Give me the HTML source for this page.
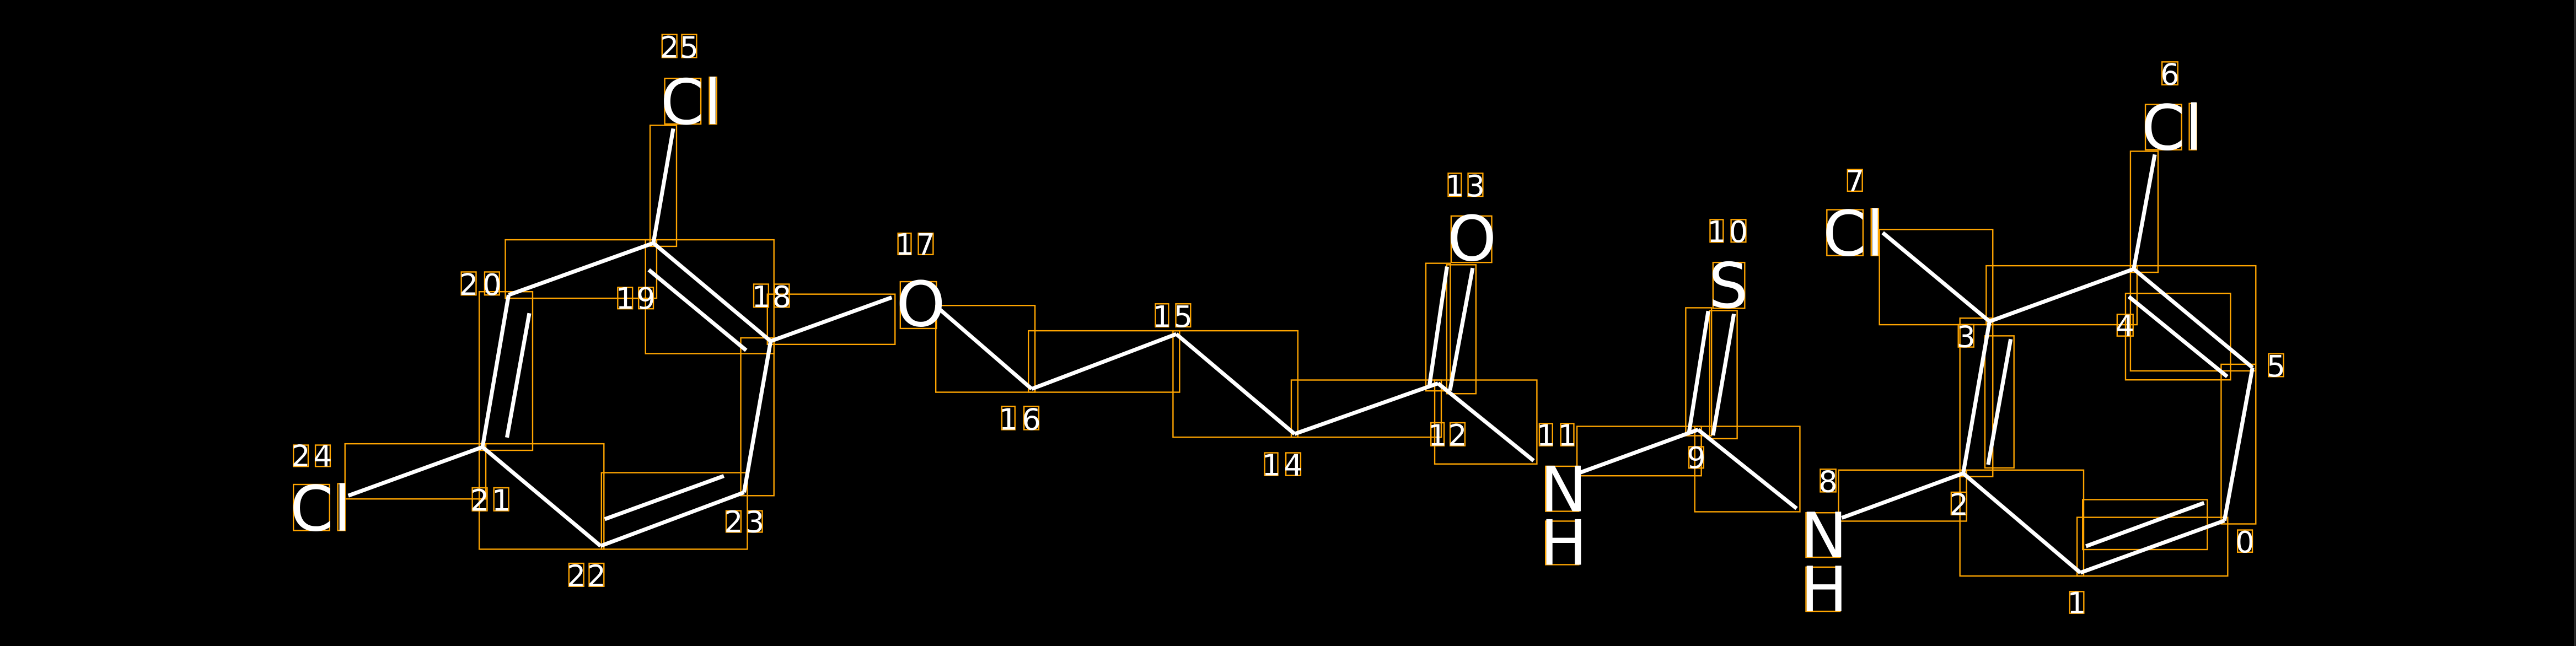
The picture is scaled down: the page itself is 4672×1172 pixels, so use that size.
<!DOCTYPE html>
<html><head><meta charset="utf-8"><style>
html,body{margin:0;padding:0;background:#000;overflow:hidden}
svg{display:block}
.b{stroke:#fff;stroke-width:2.4;stroke-linecap:butt;fill:none}
.o{stroke:#FFA500;stroke-width:0.8;fill:none}
.a{font-family:"DejaVu Sans","Liberation Sans",sans-serif;font-size:38px;fill:#fff}
.d{font-family:"DejaVu Sans","Liberation Sans",sans-serif;font-size:18px;fill:#fff;text-anchor:middle}
</style></head><body>
<svg width="4672" height="1172" viewBox="0 0 1568 393.33" preserveAspectRatio="none" xmlns="http://www.w3.org/2000/svg">
<rect x="0" y="0" width="1568" height="393.33" fill="#000"/>
<line x1="1567.4" y1="0" x2="1567.4" y2="393.33" stroke="#444" stroke-width="0.7"/>
<!-- bond boxes -->
<g class="o">
<rect x="395.7" y="76.3" width="16.1" height="73.7"/>
<rect x="307.6" y="146" width="92.1" height="35.6"/>
<rect x="392.9" y="146" width="78.2" height="69.3"/>
<rect x="291.7" y="177.6" width="32.5" height="96.6"/>
<rect x="210" y="270.2" width="85.7" height="33.6"/>
<rect x="291.7" y="270.2" width="75.9" height="64.2"/>
<rect x="366.1" y="287.8" width="88.8" height="46.6"/>
<rect x="450.9" y="205.7" width="20.2" height="96.1"/>
<rect x="467.1" y="179.1" width="77.7" height="30.6"/>
<rect x="569.6" y="186" width="60.4" height="52.8"/>
<rect x="626" y="201.4" width="92" height="37.4"/>
<rect x="714" y="201.4" width="76" height="64.8"/>
<rect x="786" y="231.4" width="91.3" height="34.8"/>
<rect x="867.9" y="160.3" width="14.9" height="77.7"/>
<rect x="880.6" y="161.2" width="17.8" height="78.5"/>
<rect x="873.3" y="231.4" width="62.2" height="51.1"/>
<rect x="959.9" y="259.6" width="75.7" height="30.1"/>
<rect x="1026.1" y="187.4" width="15.7" height="77.9"/>
<rect x="1040.7" y="189.1" width="16.7" height="78"/>
<rect x="1031.6" y="259.6" width="64" height="52"/>
<rect x="1119.1" y="286.2" width="77.9" height="31.1"/>
<rect x="1193" y="193.7" width="20" height="96.5"/>
<rect x="1208.2" y="204.5" width="17.7" height="80.4"/>
<rect x="1144" y="139.7" width="69" height="58"/>
<rect x="1209" y="161.8" width="91.8" height="35.9"/>
<rect x="1296.8" y="92.1" width="16.8" height="73.7"/>
<rect x="1296.8" y="161.8" width="76.3" height="64"/>
<rect x="1293.8" y="178.6" width="63.9" height="52.7"/>
<rect x="1352" y="221.8" width="21.1" height="97.2"/>
<rect x="1264.3" y="315" width="91.7" height="35.7"/>
<rect x="1267.7" y="304.2" width="75.9" height="30.4"/>
<rect x="1193" y="286.2" width="75.3" height="64.5"/>
</g>
<!-- bonds -->
<g class="b">
<line x1="397.7" y1="148" x2="409.8" y2="78.3"/>
<line x1="397.7" y1="148" x2="309.6" y2="179.6"/>
<line x1="397.7" y1="148" x2="469.1" y2="207.7"/>
<line x1="394.9" y1="164.3" x2="454.2" y2="213.3"/>
<line x1="309.6" y1="179.6" x2="293.7" y2="272.2"/>
<line x1="322.2" y1="190.7" x2="308.6" y2="266.4"/>
<line x1="293.7" y1="272.2" x2="212" y2="301.8"/>
<line x1="293.7" y1="272.2" x2="365.6" y2="332.4"/>
<line x1="365.6" y1="332.4" x2="452.9" y2="299.8"/>
<line x1="368.1" y1="316.1" x2="440.6" y2="289.8"/>
<line x1="452.9" y1="299.8" x2="469.1" y2="207.7"/>
<line x1="469.1" y1="207.7" x2="542.8" y2="181.1"/>
<line x1="571.6" y1="188" x2="628" y2="236.8"/>
<line x1="628" y1="236.8" x2="716" y2="203.4"/>
<line x1="716" y1="203.4" x2="788" y2="264.2"/>
<line x1="788" y1="264.2" x2="875.3" y2="233.4"/>
<line x1="869.9" y1="236" x2="880.8" y2="162.3"/>
<line x1="882.6" y1="237.7" x2="896.4" y2="163.2"/>
<line x1="875.3" y1="233.4" x2="933.5" y2="280.5"/>
<line x1="961.9" y1="287.7" x2="1033.6" y2="261.6"/>
<line x1="1028.1" y1="263.3" x2="1039.8" y2="189.4"/>
<line x1="1042.7" y1="265.1" x2="1055.4" y2="191.1"/>
<line x1="1033.6" y1="261.6" x2="1093.6" y2="309.6"/>
<line x1="1121.1" y1="315.3" x2="1195" y2="288.2"/>
<line x1="1195" y1="288.2" x2="1211" y2="195.7"/>
<line x1="1223.9" y1="206.5" x2="1210.2" y2="282.9"/>
<line x1="1211" y1="195.7" x2="1146" y2="141.7"/>
<line x1="1211" y1="195.7" x2="1298.8" y2="163.8"/>
<line x1="1298.8" y1="163.8" x2="1311.6" y2="94.1"/>
<line x1="1298.8" y1="163.8" x2="1371.1" y2="223.8"/>
<line x1="1295.8" y1="180.6" x2="1355.7" y2="229.3"/>
<line x1="1371.1" y1="223.8" x2="1354" y2="317"/>
<line x1="1354" y1="317" x2="1266.3" y2="348.7"/>
<line x1="1341.6" y1="306.2" x2="1269.7" y2="332.6"/>
<line x1="1266.3" y1="348.7" x2="1195" y2="288.2"/>
</g>
<!-- atom label boxes -->
<g class="o">
<rect x="404.6" y="47.7" width="22" height="27.8"/><rect x="431.8" y="47" width="4.4" height="28.5"/>
<rect x="178.6" y="295" width="22" height="28"/><rect x="205.6" y="294.5" width="4.4" height="28.5"/>
<rect x="548" y="171.5" width="22" height="28.5"/>
<rect x="883.3" y="131.5" width="24.7" height="28.3"/>
<rect x="1042.7" y="159.8" width="19.3" height="27.9"/>
<rect x="940.8" y="283.9" width="20.2" height="27.4"/><rect x="940.8" y="317.3" width="20.2" height="26.5"/>
<rect x="1099.3" y="312.2" width="20.7" height="27.1"/><rect x="1099.3" y="345.3" width="20.7" height="26.9"/>
<rect x="1112" y="127.7" width="22" height="27.9"/><rect x="1139" y="127" width="4.4" height="28.6"/>
<rect x="1305.9" y="63.6" width="22" height="27.6"/><rect x="1332.6" y="63" width="4.4" height="28.2"/>
</g>
<g class="a">
<text x="402" y="75.5">Cl</text>
<text x="176.5" y="323">Cl</text>
<text x="545.5" y="198.5">O</text>
<text x="881" y="158.5">O</text>
<text x="1040" y="187.2">S</text>
<text x="937.5" y="311.3">N</text><text x="937.5" y="343.8">H</text>
<text x="1096" y="339.3">N</text><text x="1096" y="372.2">H</text>
<text x="1109.5" y="155.6">Cl</text>
<text x="1303.5" y="91.2">Cl</text>
</g>
<!-- index label boxes -->
<g class="o">
<rect x="403" y="21" width="9" height="14"/><rect x="415" y="21" width="9" height="14"/>
<rect x="178.6" y="271" width="9" height="13"/><rect x="192" y="271" width="9" height="13"/>
<rect x="280.8" y="165.6" width="9" height="14"/><rect x="295" y="165.6" width="9" height="14"/>
<rect x="376" y="175" width="9" height="13"/><rect x="388.7" y="175" width="9" height="13"/>
<rect x="458.8" y="173" width="9" height="14"/><rect x="471.4" y="173" width="9" height="14"/>
<rect x="287.5" y="297" width="9" height="14"/><rect x="300.6" y="297" width="9" height="14"/>
<rect x="346.3" y="343" width="9" height="14"/><rect x="358.6" y="343" width="9" height="14"/>
<rect x="442" y="311" width="9" height="13"/><rect x="455" y="311" width="9" height="13"/>
<rect x="546.6" y="142" width="8" height="13"/><rect x="559" y="142" width="9" height="13"/>
<rect x="609.8" y="247.4" width="8" height="14.2"/><rect x="623.3" y="247.4" width="9" height="14.2"/>
<rect x="703.3" y="185" width="8" height="14"/><rect x="715.7" y="185" width="9" height="14"/>
<rect x="769.8" y="275.7" width="8" height="13.8"/><rect x="782.7" y="275.7" width="9" height="13.8"/>
<rect x="881.5" y="105.5" width="8" height="14"/><rect x="893.6" y="105.5" width="9" height="14"/>
<rect x="871" y="257.4" width="8" height="14"/><rect x="882.7" y="257.4" width="9" height="14"/>
<rect x="937" y="257.9" width="8" height="13.5"/><rect x="950" y="257.9" width="8" height="13.5"/>
<rect x="1040.9" y="133.7" width="8" height="13.7"/><rect x="1053.7" y="133.7" width="9" height="13.7"/>
<rect x="1028" y="272" width="9" height="13"/>
<rect x="1108" y="285.7" width="9.5" height="13.8"/>
<rect x="1124.6" y="103.2" width="9" height="13.2"/>
<rect x="1316" y="37.7" width="9.6" height="13.9"/>
<rect x="1380.8" y="215.4" width="9.2" height="13.9"/>
<rect x="1288.7" y="191.4" width="9.7" height="13.2"/>
<rect x="1192" y="197.6" width="9.4" height="13.7"/>
<rect x="1187.7" y="299.7" width="9.4" height="13.7"/>
<rect x="1259.8" y="360.2" width="8.6" height="13.2"/>
<rect x="1362" y="322.7" width="9" height="13.5"/>
</g>
<g class="d">
<text x="407.5" y="35">2</text><text x="419.5" y="35">5</text>
<text x="183.1" y="284">2</text><text x="196.5" y="284">4</text>
<text x="285.3" y="179.6">2</text><text x="299.5" y="179.6">0</text>
<text x="380.5" y="188">1</text><text x="393.2" y="188">9</text>
<text x="463.3" y="187">1</text><text x="475.9" y="187">8</text>
<text x="292" y="311">2</text><text x="305.1" y="311">1</text>
<text x="350.8" y="357">2</text><text x="363.1" y="357">2</text>
<text x="446.5" y="324">2</text><text x="459.5" y="324">3</text>
<text x="550.6" y="155">1</text><text x="563.5" y="155">7</text>
<text x="613.8" y="261.6">1</text><text x="627.8" y="261.6">6</text>
<text x="707.3" y="199">1</text><text x="720.2" y="199">5</text>
<text x="773.8" y="289.5">1</text><text x="787.2" y="289.5">4</text>
<text x="885.5" y="119.5">1</text><text x="898.1" y="119.5">3</text>
<text x="875" y="271.4">1</text><text x="887.2" y="271.4">2</text>
<text x="941" y="271.4">1</text><text x="954" y="271.4">1</text>
<text x="1044.9" y="147.4">1</text><text x="1058.2" y="147.4">0</text>
<text x="1032.5" y="285">9</text>
<text x="1112.7" y="299.5">8</text>
<text x="1129.1" y="116.4">7</text>
<text x="1320.8" y="51.6">6</text>
<text x="1385.4" y="229.3">5</text>
<text x="1293.5" y="204.6">4</text>
<text x="1196.7" y="211.3">3</text>
<text x="1192.4" y="313.4">2</text>
<text x="1264.1" y="373.4">1</text>
<text x="1366.5" y="336.2">0</text>
</g>
</svg>
</body></html>
